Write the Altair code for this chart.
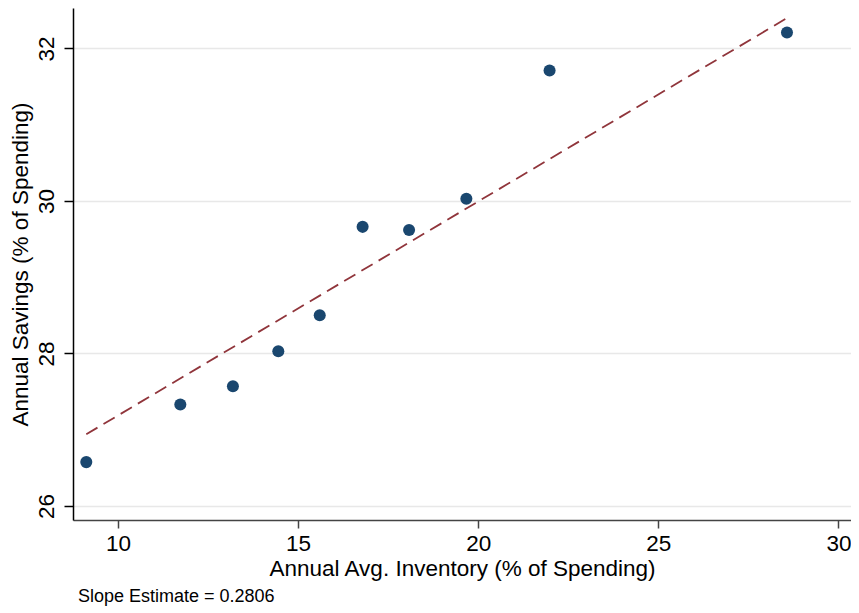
import altair as alt
import pandas as pd

inventory = [9.12, 11.73, 13.19, 14.45, 15.60, 16.79, 18.08, 19.67, 21.98, 28.57]
savings = [26.575, 27.33, 27.57, 28.03, 28.50, 29.66, 29.62, 30.03, 31.71, 32.21]
fit_x = [9.12, 28.54]
fit_y = [26.94, 32.39]
x_ticks = [10, 15, 20, 25, 30]
y_ticks = [26, 28, 30, 32]
slope_label = "Slope Estimate = 0.2806"

df = pd.DataFrame({"inv": inventory, "sav": savings})
df_fit = pd.DataFrame({"inv": fit_x, "sav": fit_y})

FONT = "Liberation Sans"
FS = 22.5

x_enc = alt.X(
    "inv:Q",
    scale=alt.Scale(domain=[8.751, 30.347], nice=False, zero=False),
    axis=alt.Axis(
        title="Annual Avg. Inventory (% of Spending)",
        values=x_ticks,
        grid=False,
        domainColor="#444444",
        tickColor="#444444",
        domainWidth=1.5,
        tickWidth=1.5,
        tickSize=8,
        labelFontSize=FS,
        labelPadding=4,
        titleFontSize=FS,
        titleFontWeight="normal",
        titlePadding=3,
        labelColor="black",
        titleColor="black",
    ),
)
y_enc = alt.Y(
    "sav:Q",
    scale=alt.Scale(domain=[25.816, 32.53], nice=False, zero=False),
    axis=alt.Axis(
        title="Annual Savings (% of Spending)",
        values=y_ticks,
        grid=True,
        gridColor="#e8e8e8",
        gridWidth=1.5,
        domainColor="black",
        tickColor="black",
        domainWidth=1.5,
        tickWidth=1.5,
        tickSize=9,
        labelAngle=270,
        labelAlign="center",
        labelBaseline="bottom",
        labelFontSize=FS,
        labelPadding=6,
        titleFontSize=FS,
        titleFontWeight="normal",
        titlePadding=3,
        labelColor="black",
        titleColor="black",
    ),
)

points = alt.Chart(df).mark_circle(size=145, color="#1a476f", opacity=1).encode(x=x_enc, y=y_enc)

fit = (
    alt.Chart(df_fit)
    .mark_line(color="#90353b", strokeWidth=1.8, strokeDash=[13, 7])
    .encode(x=x_enc, y=y_enc)
)

chart = (
    alt.layer(fit, points)
    .properties(
        width=778,
        height=512,
        autosize=alt.AutoSizeParams(type="none"),
        padding={"left": 65, "top": 0, "right": 0, "bottom": 88},
        title=alt.TitleParams(
            slope_label,
            orient="bottom",
            anchor="start",
            frame="group",
            fontSize=18,
            fontWeight="normal",
            font=FONT,
            color="black",
            dx=5,
            offset=8,
        ),
    )
    .configure(font=FONT)
    .configure_view(stroke=None)
)

chart.save("out.html", embed_options={"renderer": "svg", "actions": False})
